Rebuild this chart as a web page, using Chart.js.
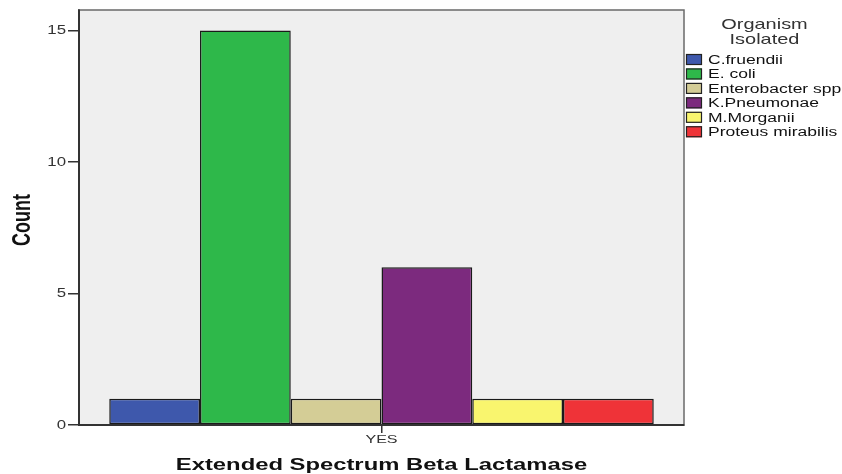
<!DOCTYPE html>
<html>
<head>
<meta charset="utf-8">
<script src="https://cdn.jsdelivr.net/npm/chart.js@4"></script>
<style>
  html, body { margin: 0; padding: 0; background: #ffffff; }
  #wrap { width: 842px; height: 474px; position: relative; }
</style>
</head>
<body>
<div id="wrap"><canvas id="c" width="842" height="474"></canvas></div>
<script>
const categories = ['YES'];
const organisms = ['C.fruendii', 'E. coli', 'Enterobacter spp', 'K.Pneumonae', 'M.Morganii', 'Proteus mirabilis'];
const counts = [1, 15, 1, 6, 1, 1];
const colors = ['#3e58ac', '#2eb84a', '#d4cd96', '#7c2a7e', '#f9f56e', '#ef3338'];
const yTicks = [0, 5, 10, 15];
const legendTitle = ['Organism', 'Isolated'];
const xTitle = 'Extended Spectrum Beta Lactamase';
const yTitle = 'Count';

const FONT = "Arial, 'Liberation Sans', sans-serif";
const SX = 1.4; // horizontal stretch of the original picture's text

function stretchText(ctx, text, x, y, font, color, align, baseline, sx) {
  ctx.save();
  ctx.translate(x, y);
  ctx.scale(sx, 1);
  ctx.font = font;
  ctx.fillStyle = color;
  ctx.textAlign = align;
  ctx.textBaseline = baseline;
  ctx.fillText(text, 0, 0);
  ctx.restore();
}

const plotBg = {
  id: 'plotBg',
  beforeDraw(chart) {
    const { ctx, chartArea: a } = chart;
    ctx.save();
    ctx.fillStyle = '#efefef';
    ctx.fillRect(a.left, a.top, a.right - a.left, a.bottom - a.top);
    ctx.restore();
  },
  afterDatasetsDraw(chart) {
    const { ctx, chartArea: a } = chart;
    ctx.save();
    ctx.strokeStyle = '#6a6a6a';
    ctx.lineWidth = 1.5;
    ctx.strokeRect(a.left, a.top, a.right - a.left, a.bottom - a.top);
    ctx.strokeStyle = '#333333';
    ctx.lineWidth = 2;
    ctx.beginPath();
    ctx.moveTo(a.left, a.top);
    ctx.lineTo(a.left, a.bottom);
    ctx.lineTo(a.right, a.bottom);
    ctx.stroke();
    ctx.restore();
  }
};

const axisText = {
  id: 'axisText',
  afterDraw(chart) {
    const { ctx, chartArea: a } = chart;
    const ys = chart.scales.y, xs = chart.scales.x;
    ys.ticks.forEach(t => {
      const py = ys.getPixelForValue(t.value);
      stretchText(ctx, String(t.value), 66, py + 0.5, '12px ' + FONT, '#333333', 'right', 'middle', SX);
    });
    categories.forEach((c, i) => {
      const px = xs.getPixelForValue(i);
      stretchText(ctx, c, px, 443, '11.5px ' + FONT, '#333333', 'center', 'alphabetic', SX);
    });
    stretchText(ctx, xTitle, (a.left + a.right) / 2, 470, 'bold 17px ' + FONT, '#111111', 'center', 'alphabetic', SX);
    ctx.save();
    ctx.translate(30, 220);
    ctx.rotate(-Math.PI / 2);
    ctx.scale(1, SX);
    ctx.font = 'bold 18px ' + FONT;
    ctx.fillStyle = '#111111';
    ctx.textAlign = 'center';
    ctx.textBaseline = 'alphabetic';
    ctx.fillText(yTitle, 0, 0);
    ctx.restore();
  }
};

const sideLegend = {
  id: 'sideLegend',
  afterDraw(chart) {
    const { ctx } = chart;
    legendTitle.forEach((t, i) => stretchText(ctx, t, 764.5, 28.5 + i * 15.5, '15px ' + FONT, '#333333', 'center', 'alphabetic', 1.33));
    chart.data.datasets.forEach((ds, i) => {
      const y = 59.5 + i * 14.45;
      ctx.save();
      ctx.fillStyle = ds.backgroundColor;
      ctx.fillRect(686, y - 5.5, 16, 11);
      ctx.strokeStyle = '#222222';
      ctx.lineWidth = 1.2;
      ctx.strokeRect(686.5, y - 5, 15, 10);
      ctx.restore();
      stretchText(ctx, ds.label, 708, y + 4.5, '12.5px ' + FONT, '#111111', 'left', 'alphabetic', SX);
    });
  }
};

new Chart(document.getElementById('c'), {
  type: 'bar',
  data: {
    labels: categories,
    datasets: organisms.map((name, i) => ({
      label: name,
      data: [counts[i]],
      backgroundColor: colors[i],
      borderColor: '#1a1a1a',
      borderWidth: 1.5,
      borderSkipped: false,
      categoryPercentage: 0.9,
      barPercentage: 1.0
    }))
  },
  options: {
    responsive: false,
    animation: false,
    devicePixelRatio: 1,
    layout: { padding: { top: 10, right: 158, left: 0, bottom: 0 } },
    plugins: {
      legend: { display: false },
      tooltip: { enabled: false }
    },
    scales: {
      x: {
        offset: true,
        grid: { display: true, offset: false, drawOnChartArea: false, tickLength: 8, color: '#333333', lineWidth: 1.5 },
        border: { display: true, color: '#333333', width: 2 },
        ticks: { display: false },
        title: { display: false, text: xTitle },
        afterFit(s) { s.height = 49; }
      },
      y: {
        min: 0,
        max: 15.78,
        afterBuildTicks(s) { s.ticks = yTicks.map(v => ({ value: v })); },
        grid: { display: true, drawOnChartArea: false, tickLength: 11, color: '#333333', lineWidth: 1.5 },
        border: { display: true, color: '#333333', width: 2 },
        ticks: { display: false },
        title: { display: false, text: yTitle },
        afterFit(s) { s.width = 79; }
      }
    }
  },
  plugins: [plotBg, axisText, sideLegend]
});
</script>
</body>
</html>
